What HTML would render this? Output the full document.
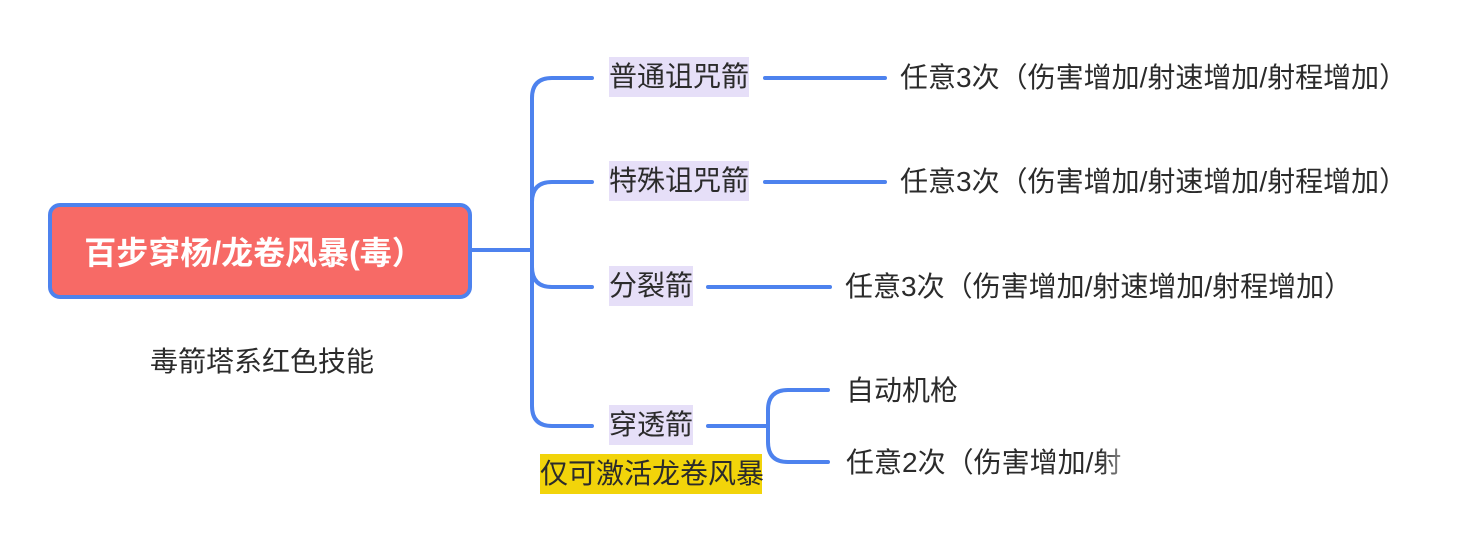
<!DOCTYPE html>
<html><head><meta charset="utf-8"><style>
body{margin:0;width:1480px;height:544px;background:#fff;position:relative;overflow:hidden;font-family:"Liberation Sans","Noto Sans CJK SC",sans-serif;color:#2b2b2b}
.t{position:absolute;font-size:28px;line-height:40px;white-space:nowrap}
.p{background:#e6dff8}
</style></head><body>
<svg width="1480" height="544" style="position:absolute;left:0;top:0">
<g fill="none" stroke="#4d82ee" stroke-width="4" stroke-linecap="round">
<path d="M470 250 H532"/>
<path d="M592 78 H552 Q532 78 532 98 V406 Q532 426 552 426 H592"/>
<path d="M592 182 H552 Q532 182 532 202"/>
<path d="M592 287 H552 Q532 287 532 267"/>
<path d="M765 78 H885"/><path d="M765 182 H885"/><path d="M708 287 H830"/>
<path d="M708 426 H768"/>
<path d="M828 390 H788 Q768 390 768 410 V442 Q768 462 788 462 H828"/>
</g>
<rect x="50" y="205" width="420" height="92" rx="10" fill="#f76a66" stroke="#4d82ee" stroke-width="4"/>
</svg>
<div class="t" style="left:44px;top:233px;width:420px;text-align:center;color:#fff;font-weight:bold;font-size:32px">百步穿杨/龙卷风暴(毒）</div>
<div class="t" style="left:150px;top:342px">毒箭塔系红色技能</div>
<div class="t p" style="left:609px;top:57px;width:140px;text-align:center">普通诅咒箭</div>
<div class="t p" style="left:609px;top:161px;width:140px;text-align:center">特殊诅咒箭</div>
<div class="t p" style="left:609px;top:266px;width:84px;text-align:center">分裂箭</div>
<div class="t p" style="left:609px;top:405px;width:84px;text-align:center">穿透箭</div>
<div class="t" style="left:540px;top:454px;width:222px;text-align:center;background:#f2d40a">仅可激活龙卷风暴</div>
<div class="t" style="left:900px;top:58px">任意3次（伤害增加/射速增加/射程增加）</div>
<div class="t" style="left:900px;top:162px">任意3次（伤害增加/射速增加/射程增加）</div>
<div class="t" style="left:845px;top:267px">任意3次（伤害增加/射速增加/射程增加）</div>
<div class="t" style="left:846px;top:371px">自动机枪</div>
<div class="t" style="left:846px;top:443px">任意2次（伤害增加/射</div>
<div style="position:absolute;left:1100px;top:440px;width:80px;height:46px;background:linear-gradient(90deg,rgba(255,255,255,0),#fff 60%)"></div>
</body></html>
